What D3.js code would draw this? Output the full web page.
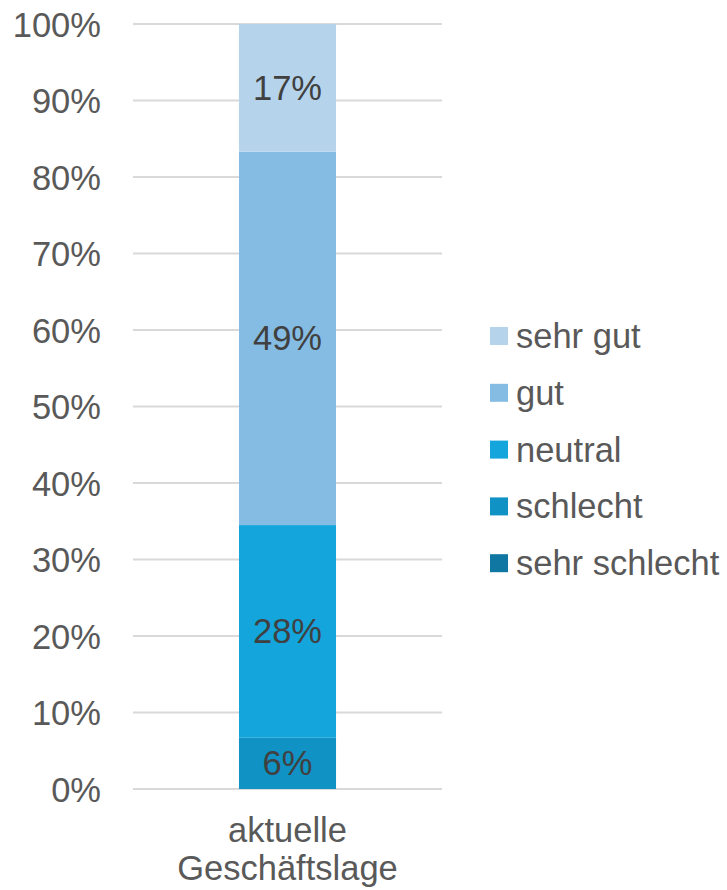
<!DOCTYPE html>
<html>
<head>
<meta charset="utf-8">
<script src="https://cdn.jsdelivr.net/npm/d3@7"></script>
<style>
  body { margin: 0; background: #fff; }
  text { font-family: "Liberation Sans", Arial, sans-serif; }
</style>
</head>
<body>
<script>
// data (share in %)
var categories = ["aktuelle Geschäftslage"];
var seriesNames = ["sehr schlecht", "schlecht", "neutral", "gut", "sehr gut"];
var seriesValues = [0, 6.7, 27.8, 48.8, 16.7];
var seriesLabels = ["", "6%", "28%", "49%", "17%"];
var seriesColors = ["#0F77A2", "#1092C4", "#14A5DC", "#85BCE4", "#B5D4EC"];
var yTicks = [0, 10, 20, 30, 40, 50, 60, 70, 80, 90, 100];

var width = 727, height = 890;
var fontSize = 34.5;

var svg = d3.select("body").append("svg")
    .attr("width", width)
    .attr("height", height);

var x = d3.scaleBand()
    .domain(categories)
    .range([133, 442])
    .padding(0.522);

var y = d3.scaleLinear()
    .domain([0, 100])
    .range([789, 24]);

// gridlines
svg.append("g")
    .selectAll("line")
    .data(yTicks)
    .join("line")
    .attr("x1", 133)
    .attr("x2", 442)
    .attr("y1", function(d) { return y(d); })
    .attr("y2", function(d) { return y(d); })
    .attr("stroke", "#D9D9D9")
    .attr("stroke-width", 2);

// y axis labels
var yAxis = d3.axisLeft(y)
    .tickValues(yTicks)
    .tickFormat(function(d) { return d + "%"; })
    .tickSize(0)
    .tickPadding(0);

svg.append("g")
    .attr("transform", "translate(101,0)")
    .call(yAxis)
    .call(function(g) { g.select(".domain").remove(); })
    .selectAll("text")
    .attr("font-size", fontSize)
    .attr("font-family", "Liberation Sans, Arial, sans-serif")
    .attr("fill", "#595959")
    .attr("dy", "0.35em");

// stack
var row = {};
seriesNames.forEach(function(s, i) { row[s] = seriesValues[i]; });
var stacked = d3.stack().keys(seriesNames)([row]);

var cat = categories[0];
var bars = svg.append("g");
stacked.forEach(function(layer, i) {
  var d = layer[0];
  if (d[1] - d[0] <= 0) return;
  bars.append("rect")
      .attr("x", x(cat))
      .attr("width", x.bandwidth())
      .attr("y", y(d[1]))
      .attr("height", y(d[0]) - y(d[1]))
      .attr("fill", seriesColors[i]);
  if (seriesLabels[i]) {
    bars.append("text")
        .attr("x", x(cat) + x.bandwidth() / 2)
        .attr("y", (y(d[0]) + y(d[1])) / 2)
        .attr("dy", "0.35em")
        .attr("text-anchor", "middle")
        .attr("font-size", fontSize)
        .attr("fill", "#404040")
        .text(seriesLabels[i]);
  }
});

// category label
var catText = svg.append("text")
    .attr("text-anchor", "middle")
    .attr("font-size", fontSize)
    .attr("fill", "#595959");
catText.append("tspan")
    .attr("x", x(cat) + x.bandwidth() / 2)
    .attr("y", 842)
    .text("aktuelle");
catText.append("tspan")
    .attr("x", x(cat) + x.bandwidth() / 2)
    .attr("y", 880)
    .text("Geschäftslage");

// legend (top to bottom: sehr gut ... sehr schlecht)
var legendOrder = seriesNames.slice().reverse();
var legend = svg.append("g")
    .selectAll("g")
    .data(legendOrder)
    .join("g")
    .attr("transform", function(d, i) { return "translate(490," + (336 + i * 56.8) + ")"; });

legend.append("rect")
    .attr("x", 0)
    .attr("y", -9)
    .attr("width", 18)
    .attr("height", 18)
    .attr("fill", function(d) { return seriesColors[seriesNames.indexOf(d)]; });

legend.append("text")
    .attr("x", 26)
    .attr("dy", "0.35em")
    .attr("font-size", fontSize)
    .attr("fill", "#595959")
    .text(function(d) { return d; });
</script>
</body>
</html>
